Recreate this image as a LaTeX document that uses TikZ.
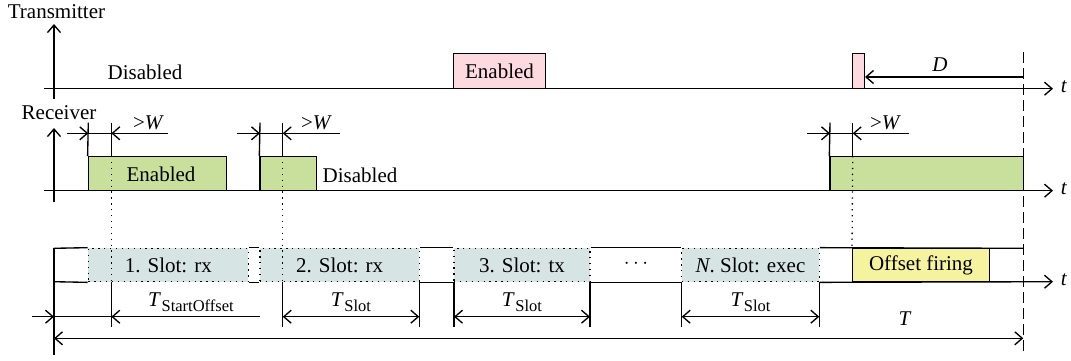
\documentclass[tikz,border=0pt]{standalone}
\usepackage{fontspec}
\setmainfont{Liberation Serif}
\usetikzlibrary{arrows.meta}

\definecolor{enpink}{HTML}{FCDADF}
\definecolor{engreen}{HTML}{C8E09B}
\definecolor{slotfill}{HTML}{D6E4E3}
\definecolor{firefill}{HTML}{F6F3A0}

\newcommand{\Tsb}[1]{\textit{T}\kern0.5pt\raisebox{-0.5ex}{\fontsize{16.5}{18}\selectfont #1}}

\tikzset{
  every node/.style={font=\fontsize{21}{25}\selectfont, inner sep=0pt},
  wire/.style={line width=1.35pt},
  tip/.style={-{Straight Barb[length=7.5pt,width=13pt]}},
  dtip/.style={{Straight Barb[length=7.5pt,width=13pt]}-{Straight Barb[length=7.5pt,width=13pt]}},
  dots/.style={line width=1.3pt, dash pattern=on 1.3pt off 4.6pt},
  dashline/.style={line width=1.35pt, dash pattern=on 11pt off 5pt},
  txbox/.style={draw, line width=1.35pt, fill=enpink, minimum height=35.4pt},
  rxbox/.style={draw, line width=1.35pt, fill=engreen, minimum height=34pt},
  slotbox/.style={draw, dots, fill=slotfill, minimum height=33.4pt},
  firebox/.style={draw, line width=1.35pt, fill=firefill, minimum height=33.4pt},
}

\begin{document}
\begin{tikzpicture}[x=1pt,y=-1pt]
\useasboundingbox (0,0) rectangle (1071,360);

% ---------------- Transmitter ----------------
\node (txlab) at (56.5,12) {Transmitter};
\coordinate (txO) at (54,99);
\coordinate (txUp) at (54,24);
\coordinate (txL) at (44,88.7);
\coordinate (txR) at (1053,88.7);
\draw[wire,tip] (txO) -- (txUp);
\draw[wire,tip] (txL) -- (txR);
\node (txt) at (1064,87) {\textit{t}};
\node (txdis) at (145,72) {Disabled};
\node[txbox, minimum width=91.6pt] (txEn) at (499.5,71) {Enabled};
\node[txbox, minimum width=11.6pt] (txPulse) at (858.5,71) {};

% deadline marker
\coordinate (dlTop) at (1023.3,52);
\coordinate (dlBot) at (1023.3,356);
\draw[dashline] (dlTop) -- (dlBot);
\coordinate (dR) at (1023.3,77);
\draw[wire,tip] (dR) -- (txPulse.east |- dR);
\node (dlab) at (940,65) {\textit{D}};

% ---------------- Receiver ----------------
\node (rxlab) at (59,113) {Receiver};
\coordinate (rxO) at (54,202);
\coordinate (rxUp) at (54,128);
\coordinate (rxL) at (44,190.7);
\coordinate (rxR) at (1053,190.7);
\draw[wire,tip] (rxO) -- (rxUp);
\draw[wire,tip] (rxL) -- (rxR);
\node (rxt) at (1064,189) {\textit{t}};

\node[rxbox, minimum width=138.4pt] (rxA) at (157.5,173.7) {};
\node (rxAen) at (161,174) {Enabled};
\node[rxbox, minimum width=56.7pt] (rxB) at (288.35,173.7) {};
\node[rxbox, minimum width=193.3pt] (rxC) at (926.65,173.7) {};
\node (rxdis) at (360,175) {Disabled};

% ---------------- Slot lane ----------------
\node[slotbox, minimum width=160pt] (s1) at (168.3,265) {1. Slot: rx};
\node[slotbox, minimum width=159.3pt] (s2) at (339.65,265) {2. Slot: rx};
\node[slotbox, minimum width=136pt] (s3) at (522,265) {3. Slot: tx};
\node (sdots) at (636,264) {$\cdots$};
\node[slotbox, minimum width=137.6pt] (sN) at (750.5,265) {\textit{N}. Slot: exec};
\node[firebox, minimum width=136.6pt] (fire) at (921,265) {Offset firing};

\coordinate (lnTL) at (54,248.3);
\coordinate (lnBL) at (54,281.7);
\coordinate (lnBot) at (54,355);
\coordinate (lnEnd) at (1023.3,248.3);
\coordinate (lnR) at (1053,281.7);
\draw[wire] (lnTL) -- (s1.north west);
\draw[wire] (lnBL) -- (s1.south west);
\draw[wire] (lnTL) -- (lnBot);
\draw[wire] (s1.north east) -- (s2.north west);
\draw[wire] (s1.south east) -- (s2.south west);
\draw[wire] (s2.north east) -- (s3.north west);
\draw[wire] (s2.south east) -- (s3.south west);
\draw[wire] (s3.north east) -- (sN.north west);
\draw[wire] (s3.south east) -- (sN.south west);
\draw[wire] (sN.north east) -- (lnEnd);
\draw[wire,tip] (sN.south east) -- (lnR);
\node (lnt) at (1064,280) {\textit{t}};

% ---------------- Guard windows >W ----------------
% window before slot 1
\coordinate (a1) at (88.3,122.7);
\coordinate (a2) at (111.3,122.7);
\coordinate (aL) at (66.7,133.3);
\coordinate (aR) at (168.3,133.3);
\draw[wire] (rxA.north west) -- (a1);
\draw[wire] (a2) -- (a2 |- rxA.north);
\draw[wire,tip] (aL) -- (a1 |- aL);
\draw[wire] (a1 |- aL) -- (a2 |- aL);
\draw[wire,tip] (aR) -- (a2 |- aR);
\node (aW) at (148.5,123) {>\textit{W}};
\draw[dots] (a2 |- rxA.north) -- (a2 |- s1.south);

% window before slot 2
\coordinate (b1) at (260,122.7);
\coordinate (b2) at (282.7,122.7);
\coordinate (bL) at (236.7,133.3);
\coordinate (bR) at (340,133.3);
\draw[wire] (rxB.north west) -- (b1);
\draw[wire] (b2) -- (b2 |- rxB.north);
\draw[wire,tip] (bL) -- (b1 |- bL);
\draw[wire] (b1 |- bL) -- (b2 |- bL);
\draw[wire,tip] (bR) -- (b2 |- bR);
\node (bW) at (316.5,123) {>\textit{W}};
\draw[dots] (b2 |- rxB.north) -- (b2 |- s2.south);

% window before offset firing
\coordinate (c1) at (830,122.7);
\coordinate (c2) at (852.7,122.7);
\coordinate (cL) at (807.3,133.3);
\coordinate (cR) at (909.3,133.3);
\draw[wire] (rxC.north west) -- (c1);
\draw[wire] (c2) -- (c2 |- rxC.north);
\draw[wire,tip] (cL) -- (c1 |- cL);
\draw[wire] (c1 |- cL) -- (c2 |- cL);
\draw[wire,tip] (cR) -- (c2 |- cR);
\node (cW) at (885.5,123) {>\textit{W}};
\draw[dots] (c2 |- rxC.north) -- (fire.north west);

% ---------------- Durations ----------------
\coordinate (tkA) at (111.3,281.7);
\coordinate (tkB) at (282.7,281.7);
\coordinate (tkC) at (419.3,281.7);
\coordinate (tkD) at (454,281.7);
\coordinate (tkE) at (590,281.7);
\coordinate (tkF) at (681.7,281.7);
\coordinate (tkG) at (819.3,281.7);
\foreach \k in {tkA,tkB,tkC,tkD,tkE,tkF,tkG}
  \draw[wire] (\k) -- ++(0,45);

\coordinate (oL) at (32.3,316.7);
\coordinate (oR) at (260,316.7);
\draw[wire,tip] (oL) -- (lnTL |- oL);
\draw[wire] (lnTL |- oL) -- (tkA |- oL);
\draw[wire,tip] (oR) -- (tkA |- oL);
\node (oLab) at (191,302) {\Tsb{StartOffset}};

\coordinate (d2) at (0,316.7);
\draw[wire,dtip] (tkB |- d2) -- (tkC |- d2);
\node (d2lab) at (351,302) {\Tsb{Slot}};
\draw[wire,dtip] (tkD |- d2) -- (tkE |- d2);
\node (d3lab) at (522,302) {\Tsb{Slot}};
\draw[wire,dtip] (tkF |- d2) -- (tkG |- d2);
\node (dNlab) at (750.5,302) {\Tsb{Slot}};

\coordinate (pL) at (54,338.3);
\coordinate (pR) at (1023.3,338.3);
\draw[wire,dtip] (pL) -- (pR);
\node (plab) at (905,319) {\textit{T}};
\end{tikzpicture}
\end{document}
